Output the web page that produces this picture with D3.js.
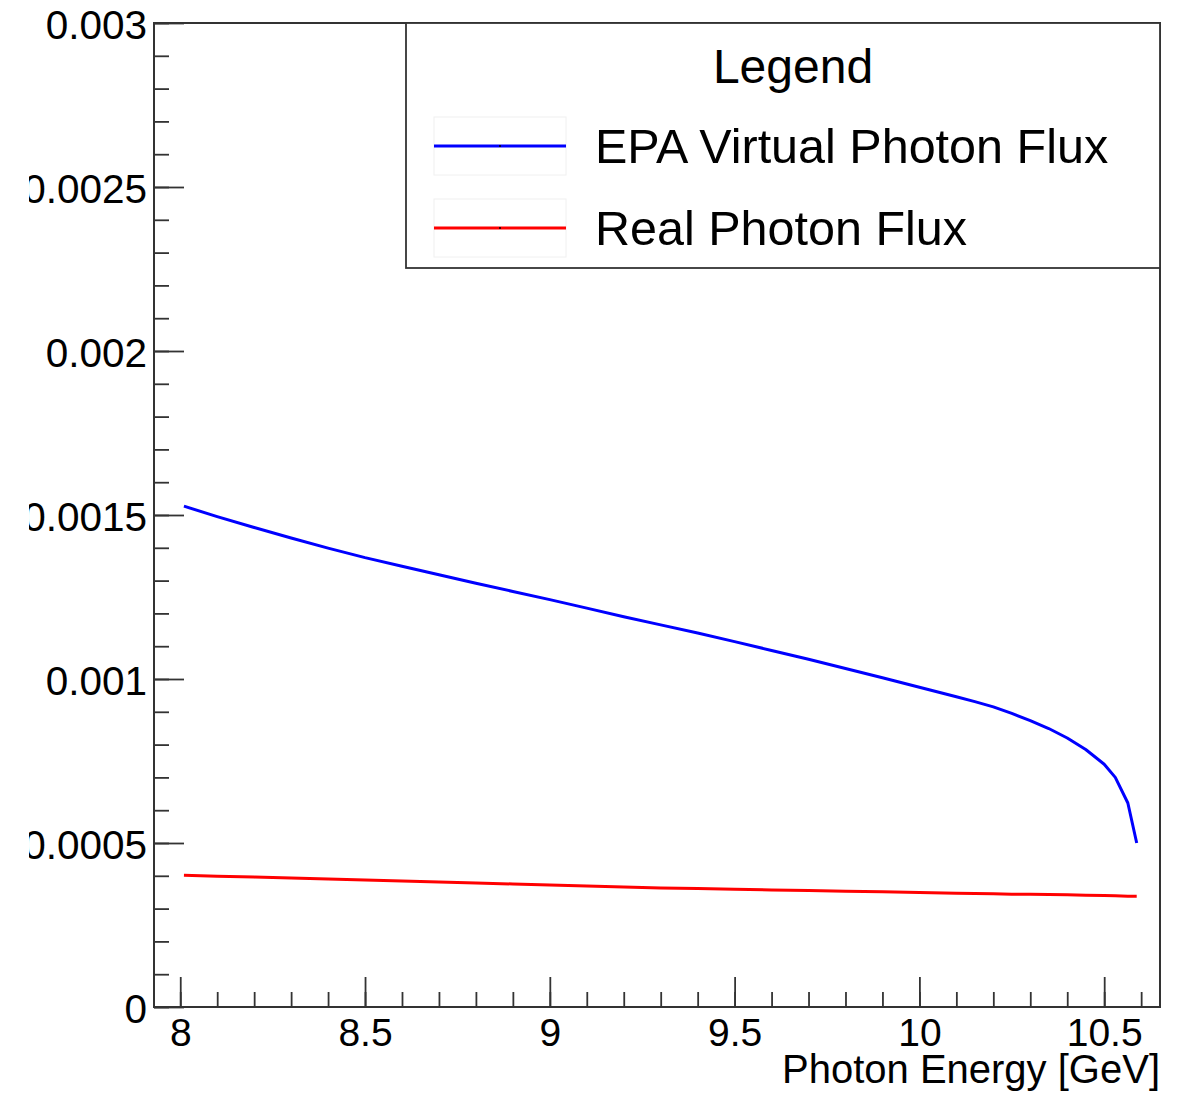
<!DOCTYPE html>
<html>
<head>
<meta charset="utf-8">
<script src="https://cdn.jsdelivr.net/npm/d3@7/dist/d3.min.js"></script>
<style>
  body { margin: 0; background: #fff; }
  text { font-family: "Liberation Sans", Arial, Helvetica, sans-serif; fill: #000; }
</style>
</head>
<body>
<div id="chart"></div>
<script>
// Photon energies (GeV) where both fluxes are sampled
const energies = [8.01, 8.1, 8.2, 8.3, 8.4, 8.5, 8.6, 8.7, 8.8, 8.9,
                  9.0, 9.1, 9.2, 9.3, 9.4, 9.5, 9.6, 9.7, 9.8, 9.9,
                  10.0, 10.1, 10.15, 10.2, 10.25, 10.3, 10.35, 10.4, 10.45, 10.5,
                  10.53, 10.564, 10.588];

// EPA virtual photon flux
const epaFlux = [0.001527, 0.001495, 0.001462, 0.001430, 0.001399, 0.001370, 0.001344, 0.001318, 0.001292, 0.001267,
                 0.001242, 0.001216, 0.001190, 0.001165, 0.001140, 0.001114, 0.001087, 0.001060, 0.001032, 0.001004,
                 0.000975, 0.000946, 0.000931, 0.000915, 0.000895, 0.000873, 0.000849, 0.000820, 0.000785, 0.000740,
                 0.000700, 0.000622, 0.000500];

// Real photon flux
const realFlux = [0.000402, 0.000399, 0.000396, 0.000393, 0.000390, 0.000387, 0.000384, 0.000381, 0.000378, 0.000375,
                  0.000372, 0.000369, 0.000366, 0.000363, 0.000361, 0.000359, 0.000357, 0.000355, 0.000353, 0.000351,
                  0.000349, 0.000347, 0.000346, 0.000345, 0.000344, 0.000344, 0.000343, 0.000342, 0.000341, 0.000340,
                  0.000339, 0.000338, 0.000338];

const xTicks = [8, 8.5, 9, 9.5, 10, 10.5];
const yTicks = [0, 0.0005, 0.001, 0.0015, 0.002, 0.0025, 0.003];
const seriesNames = ["EPA Virtual Photon Flux", "Real Photon Flux"];
const seriesColors = ["#0000ff", "#ff0000"];

// Dimensions
const W = 1179, H = 1093;
const margin = { top: 23, right: 19, bottom: 86, left: 154 },
      width = W - margin.left - margin.right,
      height = H - margin.top - margin.bottom;

const svg = d3.select("#chart")
              .append("svg")
              .attr("width", W)
              .attr("height", H);

// the pad edge cuts the longer y labels
svg.append("defs").append("clipPath")
   .attr("id", "pad")
   .append("rect")
   .attr("x", 29).attr("y", 0)
   .attr("width", W - 29).attr("height", H);

const g = svg.append("g")
             .attr("clip-path", "url(#pad)")
             .append("g")
             .attr("transform", `translate(${margin.left},${margin.top})`);

// Scales
const x = d3.scaleLinear().domain([7.929, 10.651]).range([0, width]);
const y = d3.scaleLinear().domain([0, 0.003]).range([height, 0]);

const axisColor = "#333";

// X axis: minor ticks then major ticks with labels (ticks point inward)
const xMinor = d3.range(80, 107).map(v => v / 10).filter(v => v >= x.domain()[0] && v <= x.domain()[1]);
g.append("g")
 .attr("transform", `translate(0,${height})`)
 .call(d3.axisBottom(x).tickValues(xMinor).tickSize(-15).tickFormat(""))
 .call(a => a.select(".domain").remove());

const xAxis = g.append("g")
               .attr("transform", `translate(0,${height})`)
               .call(d3.axisBottom(x).tickValues(xTicks).tickSize(-30).tickPadding(11)
                       .tickFormat(d => String(d)));
xAxis.select(".domain").remove();
xAxis.selectAll("text").style("font-size", "39px");

// Y axis
const yMinor = d3.range(0, 31).map(v => v * 0.0001);
g.append("g")
 .call(d3.axisLeft(y).tickValues(yMinor).tickSize(-15).tickFormat(""))
 .call(a => a.select(".domain").remove());

const yAxis = g.append("g")
               .call(d3.axisLeft(y).tickValues(yTicks).tickSize(-30).tickPadding(7)
                       .tickFormat(d => String(+d.toFixed(4))));
yAxis.select(".domain").remove();
yAxis.selectAll("text").style("font-size", "40.5px").attr("dy", "0.38em");

g.selectAll(".tick line").attr("stroke", axisColor).attr("stroke-width", 1.8);

// Frame
g.append("rect")
 .attr("width", width)
 .attr("height", height)
 .attr("fill", "none")
 .attr("stroke", axisColor)
 .attr("stroke-width", 2);

// Axis title
g.append("text")
 .attr("x", width)
 .attr("y", height + 76)
 .attr("text-anchor", "end")
 .style("font-size", "40px")
 .text("Photon Energy [GeV]");

// Curves
const line = d3.line()
               .x((d, i) => x(energies[i]))
               .y(d => y(d));

[epaFlux, realFlux].forEach((series, k) => {
    g.append("path")
     .datum(series)
     .attr("fill", "none")
     .attr("stroke", seriesColors[k])
     .attr("stroke-width", 3)
     .attr("stroke-linejoin", "round")
     .attr("d", line);
});

// Legend
const legend = svg.append("g").attr("transform", "translate(406,23)");
legend.append("rect")
      .attr("width", 754)
      .attr("height", 245)
      .attr("fill", "#fff")
      .attr("stroke", axisColor)
      .attr("stroke-width", 1.8);

legend.append("text")
      .attr("x", 387)
      .attr("y", 60)
      .attr("text-anchor", "middle")
      .style("font-size", "48px")
      .text("Legend");

seriesNames.forEach((name, k) => {
    const row = legend.append("g").attr("transform", `translate(28,${94 + k * 82})`);
    row.append("rect")
       .attr("width", 132)
       .attr("height", 58)
       .attr("fill", "none")
       .attr("stroke", "#f0f0f0")
       .attr("stroke-width", 1);
    row.append("line")
       .attr("x1", 0).attr("x2", 132)
       .attr("y1", 29).attr("y2", 29)
       .attr("stroke", seriesColors[k])
       .attr("stroke-width", 3);
    row.append("circle")
       .attr("cx", 66).attr("cy", 29).attr("r", 1)
       .attr("fill", "#000");
    row.append("text")
       .attr("x", 161)
       .attr("y", 46)
       .style("font-size", "48.5px")
       .text(name);
});
</script>
</body>
</html>
